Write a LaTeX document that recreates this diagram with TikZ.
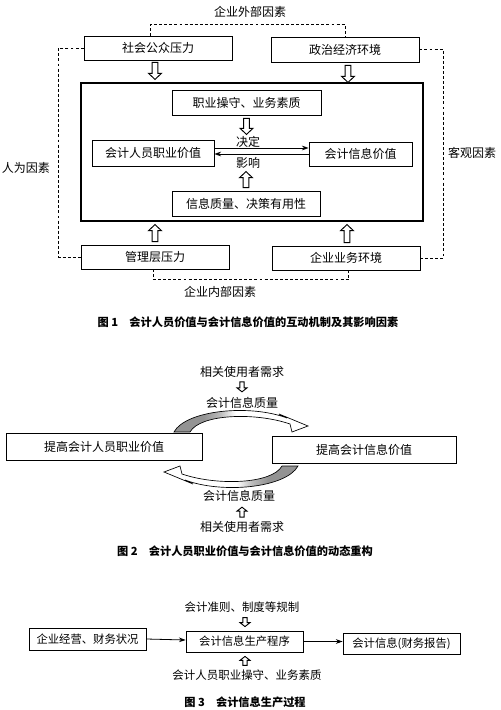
\documentclass[tikz,border=0pt]{standalone}
\usepackage{fontspec}
\setmainfont{Noto Sans CJK SC}
\usetikzlibrary{calc,arrows.meta}
\pgfdeclarehorizontalshading{swl}{100bp}{color(0bp)=(gray!85); color(36bp)=(gray!85); color(42bp)=(gray!55); color(48bp)=(white); color(100bp)=(white)}
\pgfdeclarehorizontalshading{swr}{100bp}{color(0bp)=(white); color(52bp)=(white); color(58bp)=(gray!55); color(64bp)=(gray!85); color(100bp)=(gray!85)}
\newcommand\harrow[5]{%
  \coordinate (ha) at #1; \coordinate (hb) at #2;
  \coordinate (hh) at ($(hb)!#5!(ha)$);
  \draw[hollow] ($(ha)!#3!90:(hb)$) -- ($(hh)!#3!90:(hb)$) -- ($(hh)!#4!90:(hb)$) -- (hb)
    -- ($(hh)!#4!-90:(hb)$) -- ($(hh)!#3!-90:(hb)$) -- ($(ha)!#3!-90:(hb)$) -- cycle;}
\tikzset{
  hollow/.style={draw=black, fill=white, line width=0.7pt, line join=miter},
  box/.style={draw=black, line width=0.6pt, rectangle, inner sep=0pt, font=\fontsize{9pt}{10pt}\selectfont},
  boxs/.style={box, font=\fontsize{8.5pt}{10pt}\selectfont},
  lbl/.style={inner sep=0pt, font=\fontsize{9pt}{10pt}\selectfont},
  lbls/.style={inner sep=0pt, font=\fontsize{8.6pt}{10pt}\selectfont},
  capt/.style={inner sep=0pt, font=\fontsize{8.4pt}{10pt}\selectfont\bfseries},
  dl/.style={draw=black, line width=0.7pt, dash pattern=on 2.2pt off 1.6pt},
  thinarr/.style={draw=black, line width=0.6pt, -{Stealth[length=5pt,width=3.5pt]}},
  swoosh/.style={draw=black, line width=0.5pt}
}
\begin{document}
\begin{tikzpicture}[x=0.75pt,y=-0.75pt]
\useasboundingbox (0,0) rectangle (500,710);
% ---------------- Figure 1
\node[box, minimum width=111pt, minimum height=18pt] (s1) at (158,48) {社会公众压力};
\node[box, minimum width=111pt, minimum height=18.75pt] (s2) at (345,49.5) {政治经济环境};
\node[draw=black, line width=1.5pt, minimum width=256.5pt, minimum height=103.5pt, inner sep=0pt] (frame) at (252,152) {};
\node[box, minimum width=111.75pt, minimum height=18.75pt] (q1) at (246.5,102.5) {职业操守、业务素质};
\node[box, minimum width=91.5pt, minimum height=19.5pt] (v1) at (153,153) {会计人员职业价值};
\node[box, minimum width=77.25pt, minimum height=18pt] (v2) at (360.5,154) {会计信息价值};
\node[box, minimum width=111pt, minimum height=18.75pt] (q2) at (246,203.5) {信息质量、决策有用性};
\node[box, minimum width=111pt, minimum height=18pt] (b1) at (155,257) {管理层压力};
\node[box, minimum width=111pt, minimum height=18pt] (b2) at (346,258) {企业业务环境};

\node[lbl] (t1) at (250,12) {企业外部因素};
\node[lbl] (t2) at (26,168) {人为因素};
\node[lbl] (t3) at (472,153) {客观因素};
\node[lbl] (t4) at (220,292) {企业内部因素};
\node[lbl] (jd) at (248,142) {决定};
\node[lbl] (yx) at (248,163) {影响};

\draw[dl] ([xshift=-6pt]s1.north) -- ++(0,-11) -| (s2.north);
\draw[dl] (s1.west) -- ++(-25,0) |- (b1.west);
\draw[dl] (s2.east) -- ++(24,0) |- (b2.east);
\draw[dl] ([xshift=-1.5pt]b1.south) -- ++(0,10) -| ([xshift=2.2pt]b2.south);

\draw[thinarr] ($(v1.east)+(0,-5)$) -- ($(v2.west)+(0,-6)$);
\draw[thinarr] (v2.west) -- ($(v1.east)+(0,1)$);

\harrow{($(s1.south)+(-3,2)$)}{($(s1.south)+(-3,19)$)}{2.2pt}{4.8pt}{4.5pt}
\harrow{($(s2.south)+(3,3)$)}{($(s2.south)+(3,20)$)}{2.2pt}{4.8pt}{4.5pt}
\harrow{($(q1.south)+(0,3)$)}{($(q1.south)+(0,19)$)}{2.2pt}{4.8pt}{4.5pt}
\harrow{($(q2.north)+(0,-3)$)}{($(q2.north)+(0,-19)$)}{2.2pt}{4.8pt}{4.5pt}
\harrow{($(b1.north)+(0,-3)$)}{($(b1.north)+(0,-20)$)}{2.2pt}{4.8pt}{4.5pt}
\harrow{($(b2.north)+(1,-3)$)}{($(b2.north)+(1,-21)$)}{2.2pt}{4.8pt}{4.5pt}

\node[capt] (c1) at (248,322) {图 1\hspace{1em}会计人员价值与会计信息价值的互动机制及其影响因素};

% ---------------- Figure 2
\node[lbl] (u1) at (242,372) {相关使用者需求};
\node[lbl] (g1) at (242,403) {会计信息质量};
\node[box, minimum width=147pt, minimum height=20.25pt] (p1) at (104,446.5) {提高会计人员职业价值};
\node[box, minimum width=138pt, minimum height=20.25pt] (p2) at (364,449.5) {提高会计信息价值};
\node[lbl] (g2) at (239,496) {会计信息质量};
\node[lbl] (u2) at (242,527) {相关使用者需求};
\harrow{($(u1.south)+(0,4)$)}{($(u1.south)+(0,14)$)}{1.6pt}{3.8pt}{3pt}
\harrow{($(u2.north)+(0,-4)$)}{($(u2.north)+(0,-14)$)}{1.6pt}{3.8pt}{3pt}

\path[swoosh, shading=swl] (174,432) .. controls (186,410) and (250,404) .. (287,418)
  -- (279,414) -- (308,426) -- (292,432) -- (290,424)
  .. controls (255,412) and (200,414) .. (190,432) -- cycle;
\path[swoosh, shading=swr] (298,466) .. controls (286,488) and (222,494) .. (185,480)
  -- (193,484) -- (164,472) -- (180,466) -- (182,474)
  .. controls (217,486) and (272,484) .. (282,466) -- cycle;

\node[capt] (c2) at (245,551) {图 2\hspace{1em}会计人员职业价值与会计信息价值的动态重构};

% ---------------- Figure 3
\node[lbls] (r1) at (242,607) {会计准则、制度等规制};
\node[boxs, minimum width=87.75pt, minimum height=16.5pt] (f1) at (87.5,639) {企业经营、财务状况};
\node[boxs, minimum width=87.75pt, minimum height=15.75pt] (f2) at (244.5,641.5) {会计信息生产程序};
\node[boxs, minimum width=87.75pt, minimum height=15.75pt] (f3) at (401.5,643.5) {会计信息(财务报告)};
\node[lbls] (r2) at (247,675) {会计人员职业操守、业务素质};
\draw[thinarr] (f1.east) -- ($(f2.west)+(0,-1.5)$);
\draw[thinarr] (f2.east) -- ($(f3.west)+(0,-2)$);
\harrow{($(r1.south)+(3,5)$)}{($(r1.south)+(3,14)$)}{1.6pt}{3.8pt}{3pt}
\harrow{($(r2.north)+(-2,-4)$)}{($(r2.north)+(-2,-13)$)}{1.6pt}{3.8pt}{3pt}

\node[capt] (c3) at (245,702) {图 3\hspace{1em}会计信息生产过程};
\end{tikzpicture}
\end{document}
